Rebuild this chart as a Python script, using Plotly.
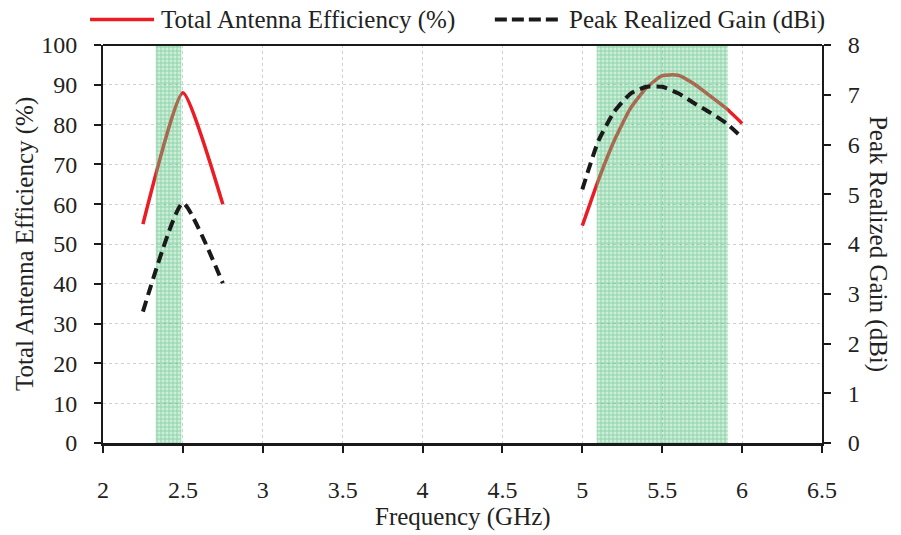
import plotly.graph_objects as go

# measured curves (None breaks the line between the two bands)
freq_ghz = [2.25, 2.5, 2.75, None, 5.0, 5.1, 5.2, 5.3, 5.4, 5.5, 5.6, 5.7, 5.8, 5.9, 6.0]
efficiency_pct = [55, 88, 60, None, 54.6, 66, 76, 84, 89.2, 92.3, 92.4, 90.2, 87.2, 84.1, 80.3]
gain_dbi = [2.64, 4.82, 3.21, None, 5.10, 6.07, 6.66, 7.02, 7.16, 7.16, 7.03, 6.83, 6.64, 6.43, 6.14]

# shaded operating bands (GHz)
bands_ghz = [(2.33, 2.49), (5.09, 5.91)]

x_ticks = [2, 2.5, 3, 3.5, 4, 4.5, 5, 5.5, 6, 6.5]
x_tick_text = ["2", "2.5", "3", "3.5", "4", "4.5", "5", "5.5", "6", "6.5"]

eff_name = "Total Antenna Efficiency (%)"
gain_name = "Peak Realized Gain (dBi)"

RED = "#ec1c24"
BLACK = "#1a1a1a"
FONT = "Liberation Serif"
TICK_SIZE = 24
TEXT_SIZE = 25

fig = go.Figure()

fig.add_trace(go.Scatter(x=freq_ghz, y=efficiency_pct, name=eff_name, mode="lines",
                         line=dict(color=RED, width=3.5, shape="spline", smoothing=0.5),
                         connectgaps=False))
fig.add_trace(go.Scatter(x=freq_ghz, y=gain_dbi, name=gain_name, mode="lines", yaxis="y2",
                         line=dict(color=BLACK, width=4, dash="11px,6px", shape="spline", smoothing=0.5),
                         connectgaps=False))

# hatched green bands drawn on top of the curves
for x0, x1 in bands_ghz:
    fig.add_trace(go.Scatter(x=[x0, x0, x1, x1, x0], y=[0, 100, 100, 0, 0], mode="lines",
                             fill="toself", line=dict(width=0),
                             fillpattern=dict(shape="+", fgcolor="rgba(50,175,95,0.9)",
                                              bgcolor="rgba(110,205,145,0.35)", size=4, solidity=0.4),
                             showlegend=False, hoverinfo="skip"))

# the page body adds an 8px margin, so the figure is 8px smaller and shifted up/left
fig.update_layout(
    width=893, height=527,
    margin=dict(l=95, r=79, t=37, b=92),
    paper_bgcolor="white", plot_bgcolor="white",
    font=dict(family=FONT, size=TICK_SIZE, color="#222"),
    showlegend=False,
    xaxis=dict(range=[2, 6.5], tickvals=x_ticks, ticktext=x_tick_text,
               showline=True, linecolor=BLACK, linewidth=3, mirror=False,
               ticks="outside", ticklen=7, tickcolor=BLACK, tickwidth=1.5,
               showgrid=True, gridcolor="#d0d0d0", griddash="dot", gridwidth=1,
               zeroline=False, ticklabelstandoff=16, tickfont=dict(size=TICK_SIZE)),
    yaxis=dict(range=[0, 100], dtick=10,
               showline=True, linecolor=BLACK, linewidth=2, mirror=False,
               ticks="outside", ticklen=7, tickcolor=BLACK, tickwidth=1.5,
               showgrid=True, gridcolor="#d0d0d0", griddash="dot", gridwidth=1,
               zeroline=False, ticklabelstandoff=12, tickfont=dict(size=TICK_SIZE)),
    yaxis2=dict(range=[0, 8], dtick=1, overlaying="y", side="right",
                showline=True, linecolor=BLACK, linewidth=2,
                ticks="outside", ticklen=7, tickcolor=BLACK, tickwidth=1.5,
                showgrid=False, zeroline=False, ticklabelstandoff=12, tickfont=dict(size=TICK_SIZE)),
)

# top frame line
fig.add_shape(type="line", xref="paper", yref="paper", x0=0, x1=1, y0=1, y1=1,
              line=dict(color=BLACK, width=2))

# axis titles
fig.add_annotation(text="Frequency (GHz)", xref="paper", yref="paper", x=0.5, y=-0.186,
                   showarrow=False, font=dict(size=TEXT_SIZE), yanchor="middle")
fig.add_annotation(text=eff_name, xref="paper", yref="paper", x=-0.1085, y=0.5,
                   textangle=-90, showarrow=False, font=dict(size=TEXT_SIZE), xanchor="center")
fig.add_annotation(text=gain_name, xref="paper", yref="paper", x=1.078, y=0.5,
                   textangle=90, showarrow=False, font=dict(size=TEXT_SIZE), xanchor="center")

# legend drawn by hand (longer line samples than plotly's built-in legend)
leg_y = 1.064
for (xa, xb, xt, name, color, dash, width) in [
        (-0.018, 0.071, 0.079, eff_name, RED, "solid", 3.5),
        (0.545, 0.633, 0.647, gain_name, BLACK, "12px,5px", 4)]:
    fig.add_shape(type="line", xref="paper", yref="paper", x0=xa, x1=xb, y0=leg_y, y1=leg_y,
                  line=dict(color=color, width=width, dash=dash))
    fig.add_annotation(text=name, xref="paper", yref="paper", x=xt, y=leg_y,
                       xanchor="left", yanchor="middle", showarrow=False, borderpad=0,
                       font=dict(size=TEXT_SIZE))

fig.write_html("out.html")
